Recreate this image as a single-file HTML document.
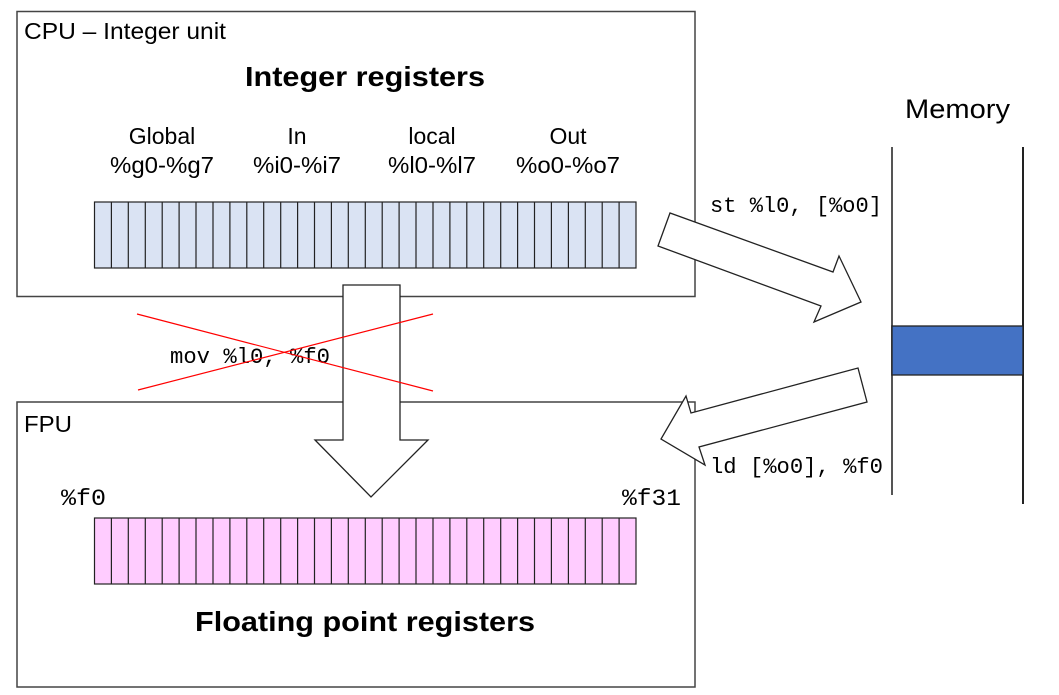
<!DOCTYPE html>
<html><head><meta charset="utf-8"><style>
html,body{margin:0;padding:0;background:#fff;width:1059px;height:695px;overflow:hidden}
svg{display:block}
.s{font-family:"Liberation Sans",sans-serif}
.m{font-family:"Liberation Mono","DejaVu Sans Mono",monospace}
</style></head><body>
<svg width="1059" height="695" viewBox="0 0 1059 695" xmlns="http://www.w3.org/2000/svg">
<!-- CPU box -->
<rect x="17" y="11.5" width="678" height="285" fill="#fff" stroke="#444" stroke-width="1.5"/>
<text x="24" y="39" class="s" font-size="23" textLength="202" lengthAdjust="spacingAndGlyphs">CPU – Integer unit</text>
<text x="365" y="86" class="s" font-size="28" font-weight="bold" text-anchor="middle" textLength="240" lengthAdjust="spacingAndGlyphs">Integer registers</text>
<g class="s" font-size="23" text-anchor="middle">
<text x="162" y="144">Global</text><text x="162" y="173" textLength="104" lengthAdjust="spacingAndGlyphs">%g0-%g7</text>
<text x="297" y="144">In</text><text x="297" y="173" textLength="88" lengthAdjust="spacingAndGlyphs">%i0-%i7</text>
<text x="432" y="144">local</text><text x="432" y="173" textLength="88" lengthAdjust="spacingAndGlyphs">%l0-%l7</text>
<text x="568" y="144">Out</text><text x="568" y="173" textLength="104" lengthAdjust="spacingAndGlyphs">%o0-%o7</text>
</g>
<rect x="94.5" y="202" width="541.5" height="66" fill="#dae3f3" stroke="#222" stroke-width="1.2"/>
<g id="cells" stroke="#222" stroke-width="1.2">
<line x1="111.4" y1="202" x2="111.4" y2="268"/><line x1="128.3" y1="202" x2="128.3" y2="268"/><line x1="145.3" y1="202" x2="145.3" y2="268"/><line x1="162.2" y1="202" x2="162.2" y2="268"/><line x1="179.1" y1="202" x2="179.1" y2="268"/><line x1="196.0" y1="202" x2="196.0" y2="268"/><line x1="213.0" y1="202" x2="213.0" y2="268"/><line x1="229.9" y1="202" x2="229.9" y2="268"/><line x1="246.8" y1="202" x2="246.8" y2="268"/><line x1="263.7" y1="202" x2="263.7" y2="268"/><line x1="280.7" y1="202" x2="280.7" y2="268"/><line x1="297.6" y1="202" x2="297.6" y2="268"/><line x1="314.5" y1="202" x2="314.5" y2="268"/><line x1="331.4" y1="202" x2="331.4" y2="268"/><line x1="348.3" y1="202" x2="348.3" y2="268"/><line x1="365.3" y1="202" x2="365.3" y2="268"/><line x1="382.2" y1="202" x2="382.2" y2="268"/><line x1="399.1" y1="202" x2="399.1" y2="268"/><line x1="416.0" y1="202" x2="416.0" y2="268"/><line x1="433.0" y1="202" x2="433.0" y2="268"/><line x1="449.9" y1="202" x2="449.9" y2="268"/><line x1="466.8" y1="202" x2="466.8" y2="268"/><line x1="483.7" y1="202" x2="483.7" y2="268"/><line x1="500.7" y1="202" x2="500.7" y2="268"/><line x1="517.6" y1="202" x2="517.6" y2="268"/><line x1="534.5" y1="202" x2="534.5" y2="268"/><line x1="551.4" y1="202" x2="551.4" y2="268"/><line x1="568.4" y1="202" x2="568.4" y2="268"/><line x1="585.3" y1="202" x2="585.3" y2="268"/><line x1="602.2" y1="202" x2="602.2" y2="268"/><line x1="619.1" y1="202" x2="619.1" y2="268"/>
</g>
<!-- FPU box -->
<rect x="17" y="402" width="678" height="285" fill="#fff" stroke="#444" stroke-width="1.5"/>
<text x="24" y="432" class="s" font-size="23" textLength="48" lengthAdjust="spacingAndGlyphs">FPU</text>
<text x="61" y="505" class="m" font-size="23" textLength="45" lengthAdjust="spacingAndGlyphs">%f0</text>
<text x="622" y="505" class="m" font-size="23" textLength="59" lengthAdjust="spacingAndGlyphs">%f31</text>
<rect x="94.5" y="518" width="541.5" height="66" fill="#ffccff" stroke="#222" stroke-width="1.2"/>
<use href="#cells" transform="translate(0,316)"/>
<text x="365" y="631" class="s" font-size="28" font-weight="bold" text-anchor="middle" textLength="340" lengthAdjust="spacingAndGlyphs">Floating point registers</text>
<!-- down arrow -->
<polygon points="343,285 400,285 400,440 428,440 371,497 315,440 343,440" fill="#fff" stroke="#222" stroke-width="1.3"/>
<!-- mov text and red X -->
<text x="170" y="363" class="m" font-size="22" textLength="160" lengthAdjust="spacingAndGlyphs">mov %l0, %f0</text>
<line x1="137" y1="314" x2="433" y2="391" stroke="#f00" stroke-width="1.2"/>
<line x1="138" y1="390" x2="433" y2="314" stroke="#f00" stroke-width="1.2"/>
<!-- memory -->
<text x="905" y="118" class="s" font-size="27" textLength="105" lengthAdjust="spacingAndGlyphs">Memory</text>
<line x1="892" y1="147" x2="892" y2="495" stroke="#555" stroke-width="2"/>
<line x1="1023" y1="147" x2="1023" y2="504" stroke="#222" stroke-width="2"/>
<rect x="892" y="326" width="131" height="49" fill="#4472c4" stroke="#222" stroke-width="1.3"/>
<!-- store arrow -->
<polygon points="670,213 658,246 821,306 814,322 861,302 839,256 833,272" fill="#fff" stroke="#222" stroke-width="1.3"/>
<text x="710" y="212" class="m" font-size="22" textLength="172" lengthAdjust="spacingAndGlyphs">st %l0, [%o0]</text>
<!-- load arrow -->
<polygon points="858,368 867,402 699,447 705,465 661,439 686,396 691,413" fill="#fff" stroke="#222" stroke-width="1.3"/>
<text x="710" y="473" class="m" font-size="22" textLength="173" lengthAdjust="spacingAndGlyphs">ld [%o0], %f0</text>
</svg>
</body></html>
